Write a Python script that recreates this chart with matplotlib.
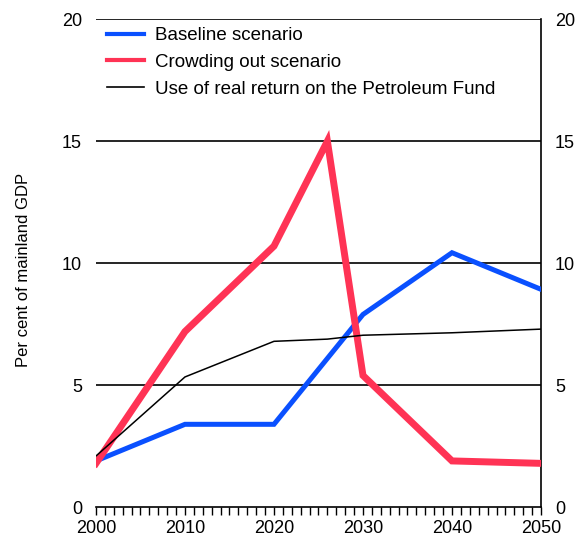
import matplotlib
matplotlib.use("Agg")
import matplotlib.pyplot as plt
from matplotlib.ticker import MultipleLocator

plt.rcParams['font.family'] = ['Liberation Sans', 'DejaVu Sans']

years_base = [2000, 2010, 2020, 2030, 2040, 2050]
baseline = [1.9, 3.4, 3.4, 7.9, 10.43, 8.93]

years_crowd = [2000, 2010, 2020, 2026, 2030, 2040, 2050]
crowding = [1.8, 7.2, 10.7, 15.0, 5.4, 1.9, 1.8]

years_fund = [2000, 2010, 2020, 2026, 2030, 2040, 2050]
fund = [2.1, 5.34, 6.8, 6.89, 7.05, 7.15, 7.3]

labels = ["Baseline scenario", "Crowding out scenario",
          "Use of real return on the Petroleum Fund"]
yticks = [0, 5, 10, 15, 20]
xticks = [2000, 2010, 2020, 2030, 2040, 2050]

fig = plt.figure(figsize=(5.78, 5.51), dpi=100)
ax = fig.add_axes([0.166, 0.0793, 0.77, 0.886])

for y in yticks[1:]:
    ax.axhline(y, color='black', lw=1.2, zorder=1)

ax.plot(years_base, baseline, color='#0A50FF', lw=3.6, label=labels[0], zorder=3,
        solid_joinstyle='miter')
ax.plot(years_crowd, crowding, color='#FF3355', lw=5.0, label=labels[1], zorder=3,
        solid_joinstyle='miter')
ax.plot(years_fund, fund, color='black', lw=1.1, label=labels[2], zorder=4)

ax.set_xlim(2000, 2050)
ax.set_ylim(0, 20)
ax.set_xticks(xticks)
ax.xaxis.set_minor_locator(MultipleLocator(1))
ax.set_yticks(yticks)

for s in ['left', 'top']:
    ax.spines[s].set_visible(False)
ax.spines['bottom'].set_linewidth(1.2)
ax.spines['right'].set_linewidth(1.2)

ax.tick_params(axis='x', which='both', direction='out', length=6, width=1.0,
               labelsize=13, pad=3)
ax.tick_params(axis='y', which='both', length=0, labelsize=13, pad=10,
               left=True, right=True, labelleft=True, labelright=True)

ax.set_ylabel("Per cent of mainland GDP", fontsize=12, labelpad=22)
ax.yaxis.label.set_y(0.486)

leg = ax.legend(loc='upper left', bbox_to_anchor=(0.0, 1.007), frameon=False,
                fontsize=13.5, handlelength=1.95, handletextpad=0.6,
                labelspacing=0.52, borderaxespad=0.2)
lines = leg.get_lines()
lines[0].set_linewidth(3.0)
lines[1].set_linewidth(3.0)
lines[2].set_linewidth(1.2)

fig.savefig("out.png", dpi=100)
